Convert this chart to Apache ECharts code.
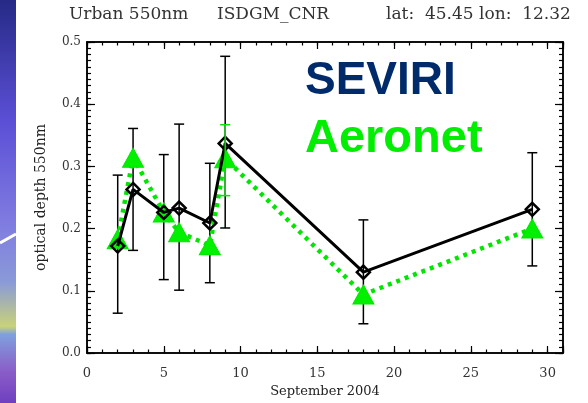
<!DOCTYPE html>
<html>
<head>
<meta charset="utf-8">
<script src="https://cdn.jsdelivr.net/npm/echarts@6/dist/echarts.min.js"></script>
<style>
html,body{margin:0;padding:0;background:#fff;}
#chart{width:588px;height:403px;}
</style>
</head>
<body>
<div id="chart"></div>
<script>
// ---- data ----
var days = [2, 3, 5, 6, 8, 9, 18, 29];
var seviri = [0.172, 0.263, 0.226, 0.233, 0.209, 0.337, 0.130, 0.231];
var seviriLow = [0.064, 0.165, 0.118, 0.101, 0.113, 0.201, 0.047, 0.140];
var seviriHigh = [0.286, 0.361, 0.319, 0.368, 0.305, 0.477, 0.214, 0.322];
var aeronet = [0.183, 0.314, 0.226, 0.194, 0.173, 0.313, 0.094, 0.200];
var aeronetErrDays = [9];
var aeronetLow = [0.253];
var aeronetHigh = [0.367];
var xTickLabels = [0, 5, 10, 15, 20, 25, 30];
var yTickLabels = ['0.0', '0.1', '0.2', '0.3', '0.4', '0.5'];

var chart = echarts.init(document.getElementById('chart'), null, {renderer: 'canvas'});
var serif = '"DejaVu Serif", "Liberation Serif", serif';
var black = '#000';

function pairs(xs, ys) { return xs.map(function (x, i) { return [x, ys[i]]; }); }
function errData(xs, lo, hi) { return xs.map(function (x, i) { return [x, lo[i], hi[i]]; }); }

function errRender(color, width) {
  return function (params, api) {
    var x = api.value(0);
    var p1 = api.coord([x, api.value(1)]);
    var p2 = api.coord([x, api.value(2)]);
    var cap = 5;
    var st = {stroke: color, lineWidth: width};
    return {
      type: 'group',
      children: [
        {type: 'line', shape: {x1: p1[0], y1: p1[1], x2: p2[0], y2: p2[1]}, style: st},
        {type: 'line', shape: {x1: p1[0] - cap, y1: p1[1], x2: p1[0] + cap, y2: p1[1]}, style: st},
        {type: 'line', shape: {x1: p2[0] - cap, y1: p2[1], x2: p2[0] + cap, y2: p2[1]}, style: st}
      ]
    };
  };
}

function xAx(pos, interval, len, labels) {
  return {
    type: 'value', position: pos, min: 0, max: 31, interval: interval,
    axisLine: {show: true, onZero: false, lineStyle: {color: black, width: 1.5}},
    axisTick: {show: true, inside: true, length: len, lineStyle: {color: black, width: 1.2}},
    axisLabel: labels ? {
      show: true, color: '#333', fontFamily: serif, fontSize: 13, margin: 14,
      formatter: function (v) { return xTickLabels.indexOf(v) >= 0 ? String(v) : ''; }
    } : {show: false},
    splitLine: {show: false},
    name: labels ? 'September 2004' : '',
    nameLocation: 'middle', nameGap: 32,
    nameTextStyle: {color: '#222', fontFamily: serif, fontSize: 13}
  };
}
function yAx(pos, interval, len, labels) {
  return {
    type: 'value', position: pos, min: 0, max: 0.5, interval: interval,
    axisLine: {show: true, onZero: false, lineStyle: {color: black, width: 1.5}},
    axisTick: {show: true, inside: true, length: len, lineStyle: {color: black, width: 1.2}},
    axisLabel: labels ? {
      show: true, color: '#333', fontFamily: serif, fontSize: 12, margin: 6,
      formatter: function (v) {
        var s = v.toFixed(1);
        return yTickLabels.indexOf(s) >= 0 && Math.abs(v * 10 - Math.round(v * 10)) < 1e-6 ? s : '';
      }
    } : {show: false},
    splitLine: {show: false},
    name: labels ? 'optical depth 550nm' : '',
    nameLocation: 'middle', nameGap: 39, nameRotate: 90,
    nameTextStyle: {color: '#222', fontFamily: serif, fontSize: 14}
  };
}

var option = {
  backgroundColor: '#fff',
  animation: false,
  grid: {left: 87, right: 25, top: 42, bottom: 43, containLabel: false},
  xAxis: [
    xAx('bottom', 5, 7, true),
    xAx('bottom', 1, 3.5, false),
    xAx('top', 5, 7, false),
    xAx('top', 1, 3.5, false)
  ],
  yAxis: [
    yAx('left', 0.1, 8, true),
    yAx('left', 0.01, 4, false),
    yAx('right', 0.1, 8, false),
    yAx('right', 0.01, 4, false)
  ],
  graphic: [
    {type: 'rect', left: 0, top: 0, z: 100, shape: {width: 16, height: 403},
      style: {fill: new echarts.graphic.LinearGradient(0, 0, 0, 1, [
        {offset: 0, color: '#262a86'},
        {offset: 0.3, color: '#5b4fd6'},
        {offset: 0.55, color: '#7f7be0'},
        {offset: 0.7, color: '#8a9ad8'},
        {offset: 0.81, color: '#c9d27a'},
        {offset: 0.83, color: '#7fa0de'},
        {offset: 0.92, color: '#8a5ec8'},
        {offset: 1, color: '#6f3fc0'}
      ])}},
    {type: 'line', z: 101, shape: {x1: 0, y1: 243, x2: 16, y2: 234}, style: {stroke: '#fff', lineWidth: 3}},
    {type: 'text', left: 69, top: 6, style: {text: 'Urban 550nm', font: '17px ' + serif, fill: '#333'}},
    {type: 'text', left: 217, top: 6, style: {text: 'ISDGM_CNR', font: '17px ' + serif, fill: '#333'}},
    {type: 'text', left: 386, top: 6, style: {text: 'lat:  45.45 lon:  12.32', font: '17px ' + serif, fill: '#333'}},
    {type: 'text', left: 305, top: 58, style: {text: 'SEVIRI', font: 'bold 46px "Liberation Sans", Arial, sans-serif', fill: '#002b6b'}},
    {type: 'text', left: 305, top: 116, style: {text: 'Aeronet', font: 'bold 47px "Liberation Sans", Arial, sans-serif', fill: '#00ee00'}}
  ],
  series: [
    {type: 'custom', name: 'seviriErr', renderItem: errRender('#000', 1.5),
      data: errData(days, seviriLow, seviriHigh), encode: {x: 0, y: [1, 2]}, z: 2},
    {type: 'line', name: 'Aeronet', data: pairs(days, aeronet), z: 3,
      lineStyle: {color: '#00e600', width: 4.5, type: [4, 5]},
      symbol: 'triangle', symbolSize: [21, 19],
      itemStyle: {color: '#00f000', borderColor: '#00e600', borderWidth: 1}},
    {type: 'line', name: 'SEVIRI', data: pairs(days, seviri), z: 4,
      lineStyle: {color: '#000', width: 3},
      symbol: 'diamond', symbolSize: 13,
      itemStyle: {color: 'rgba(0,0,0,0)', borderColor: '#000', borderWidth: 2.5}},
    {type: 'custom', name: 'aeronetErr', renderItem: errRender('#00e600', 1.5),
      data: errData(aeronetErrDays, aeronetLow, aeronetHigh), encode: {x: 0, y: [1, 2]}, z: 5}
  ]
};
chart.setOption(option);
</script>
</body>
</html>
